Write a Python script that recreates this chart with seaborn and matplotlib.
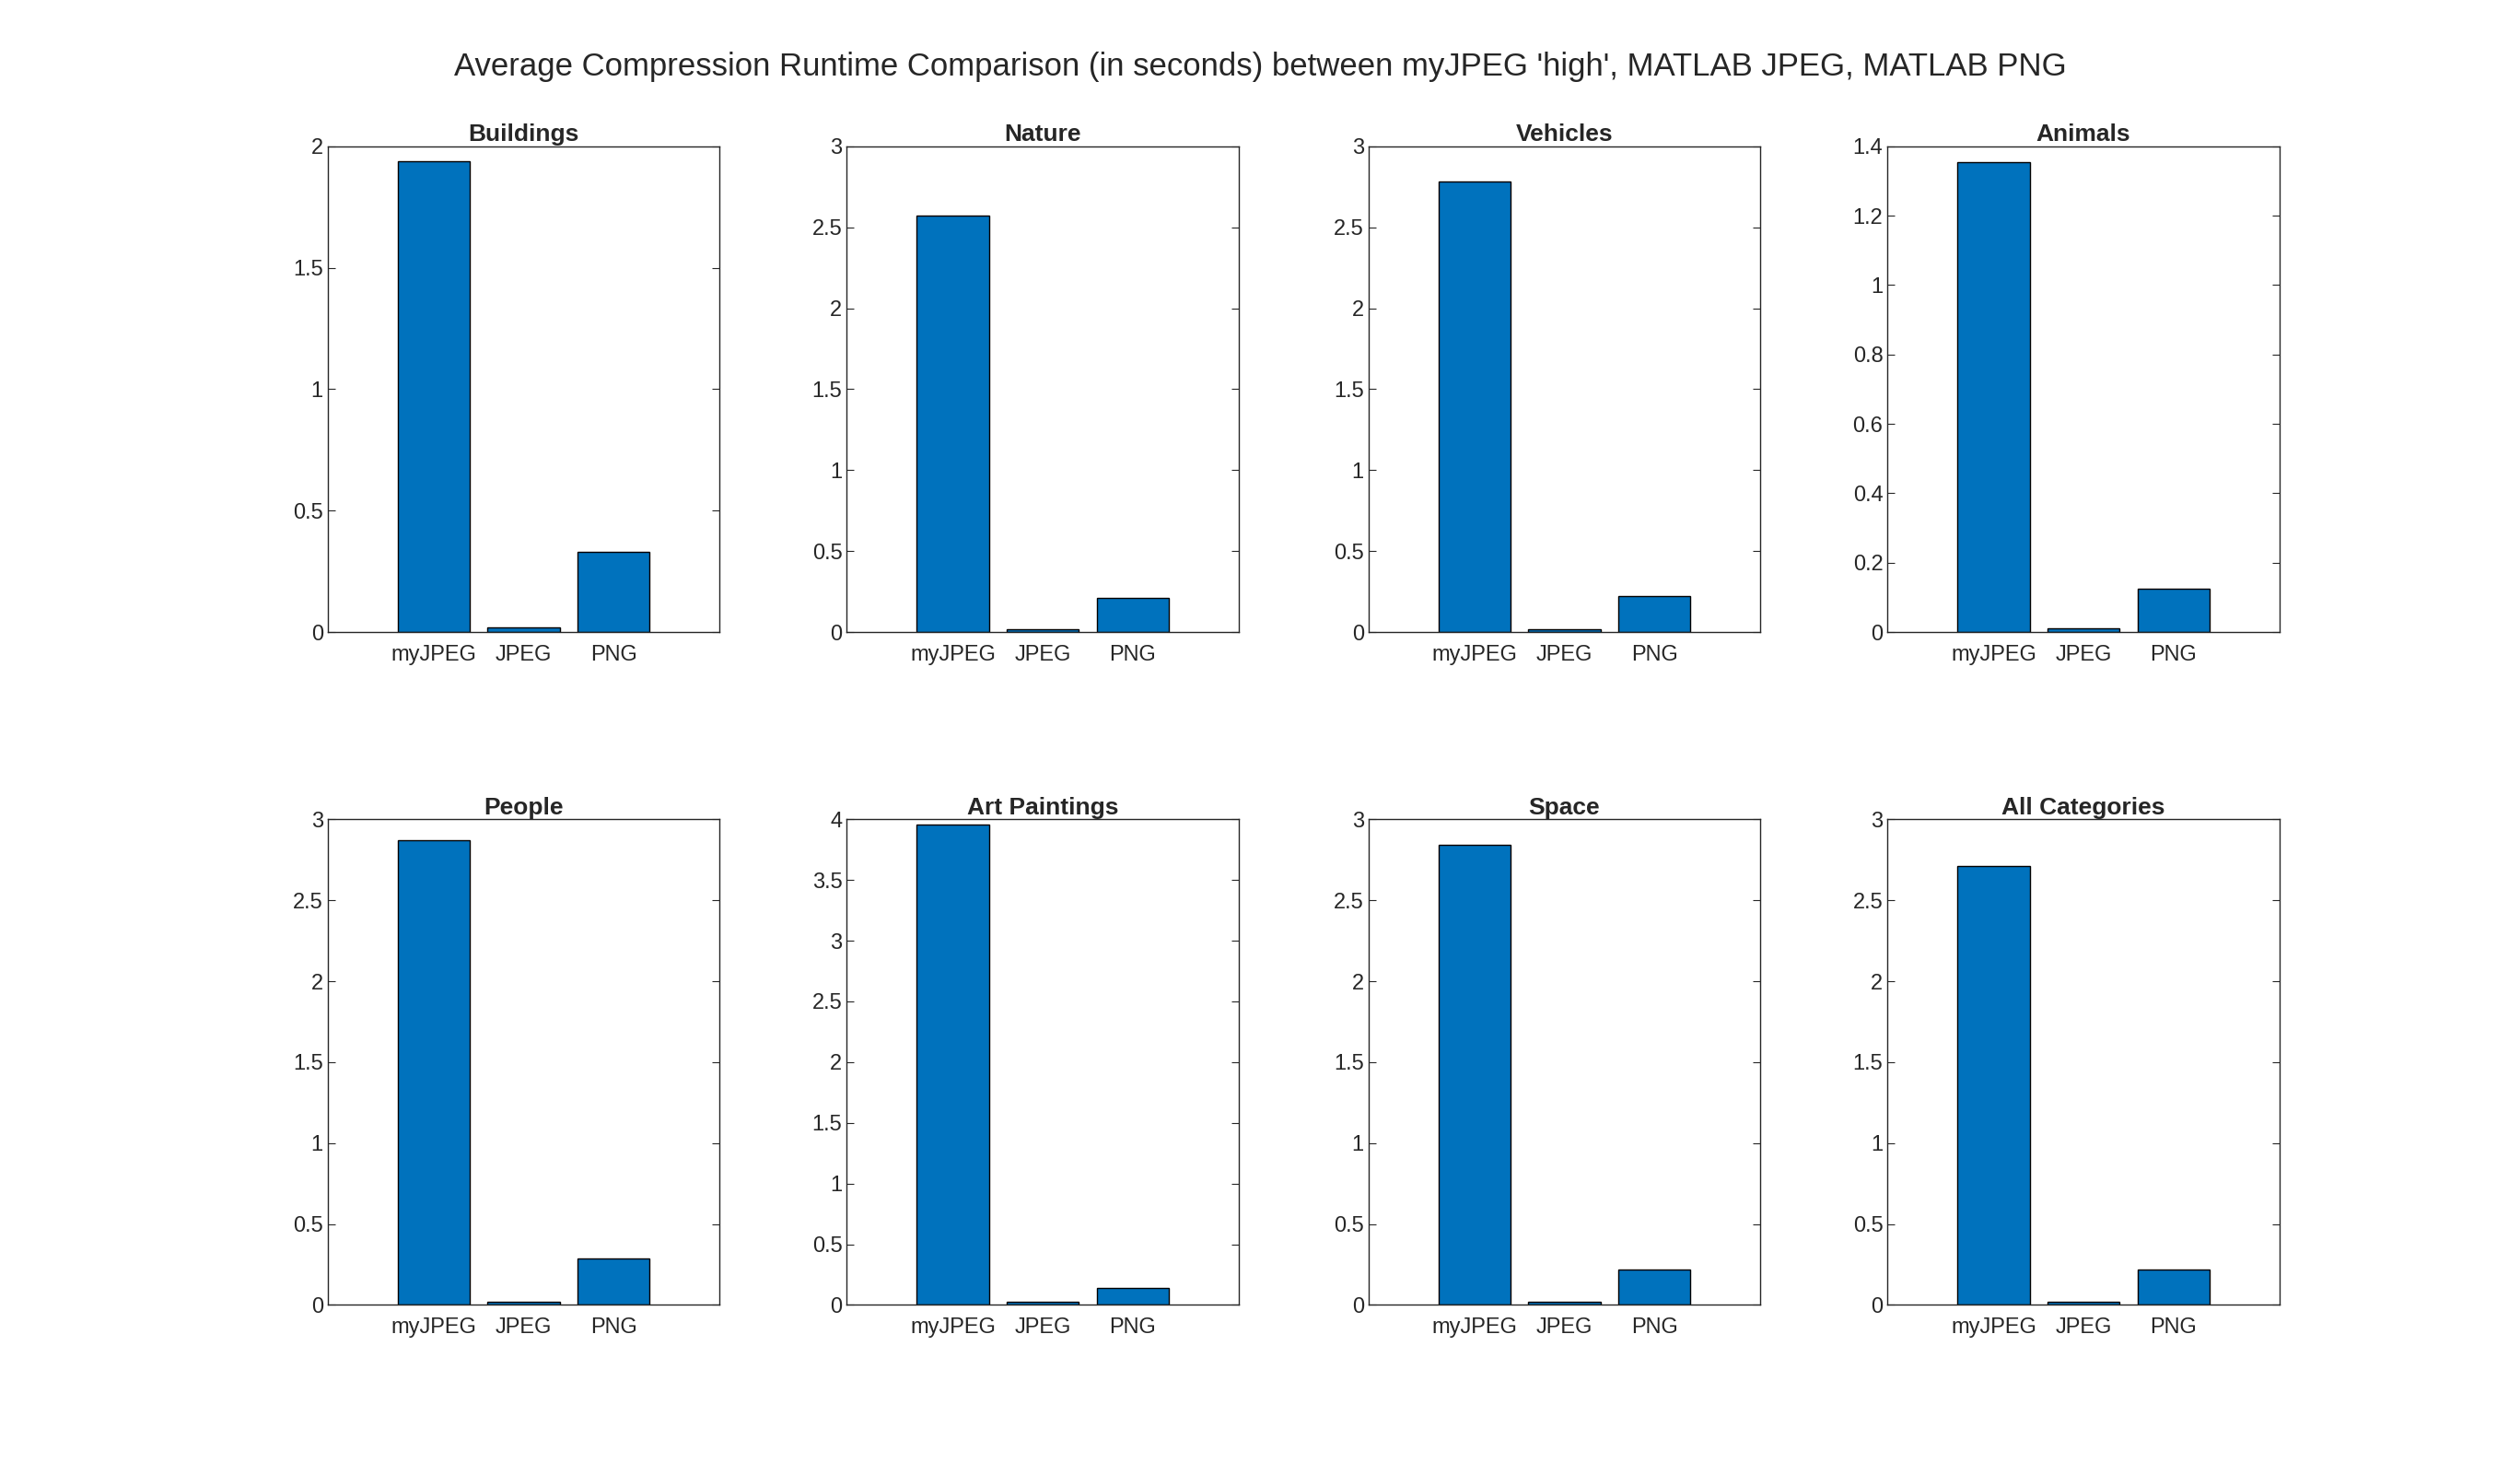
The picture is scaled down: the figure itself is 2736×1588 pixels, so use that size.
import numpy as np
import pandas as pd
import matplotlib
matplotlib.use('Agg')
import matplotlib.pyplot as plt
import seaborn as sns

# Data
titles = ['Buildings', 'Nature', 'Vehicles', 'Animals',
          'People', 'Art Paintings', 'Space', 'All Categories']
methods = ['myJPEG', 'JPEG', 'PNG']
myjpeg = [1.94, 2.57, 2.78, 1.355, 2.87, 3.96, 2.84, 2.71]
jpeg = [0.02, 0.02, 0.02, 0.01, 0.02, 0.025, 0.02, 0.02]
png = [0.33, 0.21, 0.22, 0.125, 0.29, 0.14, 0.22, 0.22]
ymax = [2, 3, 3, 1.4, 3, 4, 3, 3]
ystep = [0.5, 0.5, 0.5, 0.2, 0.5, 0.5, 0.5, 0.5]

sns.set_style('white')
plt.rcParams['font.family'] = ['Liberation Sans', 'DejaVu Sans']

fig = plt.figure(figsize=(27.36, 15.88), dpi=100)
lefts = [0.130, 0.336, 0.543, 0.749]
bottoms = [0.568, 0.108]
w, h = 0.1556, 0.332

for i, t in enumerate(titles):
    ax = fig.add_axes([lefts[i % 4], bottoms[i // 4], w, h])
    df = pd.DataFrame({'method': methods, 'val': [myjpeg[i], jpeg[i], png[i]]})
    sns.barplot(data=df, x='method', y='val', color='#0072BD', saturation=1,
                edgecolor='black', linewidth=1, width=0.8, ax=ax)
    ax.set_xlim(-1.18, 3.18)
    ax.set_ylim(0, ymax[i])
    ax.set_yticks(np.round(np.arange(0, ymax[i] + 1e-9, ystep[i]), 2))
    ax.set_yticklabels([('%g' % v) for v in ax.get_yticks()])
    ax.set_xlabel('')
    ax.set_ylabel('')
    ax.set_title(t, fontsize=19, fontweight='bold', pad=4)
    ax.tick_params(direction='in', length=6, labelsize=17, color='#262626',
                   top=True, right=True, bottom=True, left=True, labelcolor='#262626')
    ax.tick_params(axis='x', length=0, pad=10)
    for s in ax.spines.values():
        s.set_color('#262626')
        s.set_linewidth(1)

fig.suptitle("Average Compression Runtime Comparison (in seconds) between myJPEG 'high', MATLAB JPEG, MATLAB PNG",
             fontsize=25, y=0.965, x=0.5)
fig.savefig('out.png', dpi=100, facecolor='white')
